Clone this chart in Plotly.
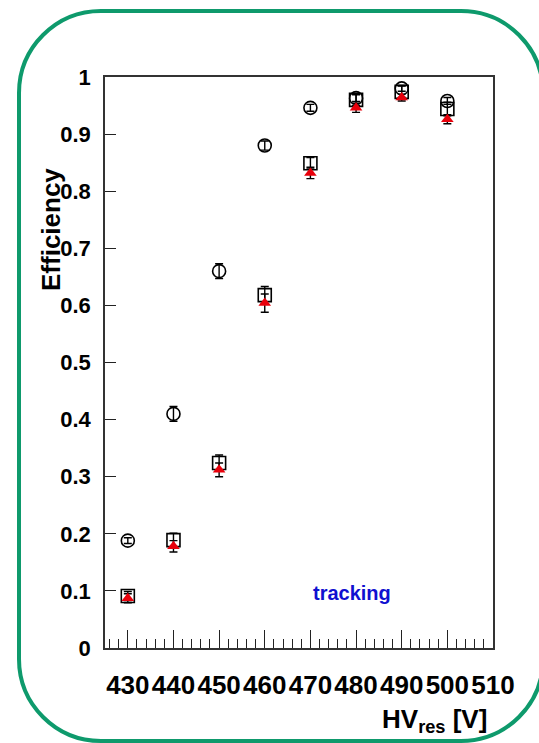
import plotly.graph_objects as go

# ---- data ----
hv = [430, 440, 450, 460, 470, 480, 490, 500]
eff_circle = [0.188, 0.410, 0.660, 0.880, 0.946, 0.963, 0.980, 0.958]
err_circle = [0.005, 0.013, 0.013, 0.008, 0.006, 0.006, 0.005, 0.006]
eff_square = [0.091, 0.189, 0.324, 0.618, 0.849, 0.960, 0.974, 0.944]
err_square = [0.008, 0.012, 0.014, 0.015, 0.010, 0.010, 0.010, 0.012]
eff_triangle = [0.087, 0.178, 0.312, 0.604, 0.832, 0.946, 0.964, 0.926]
err_triangle = [0.008, 0.010, 0.012, 0.016, 0.010, 0.008, 0.006, 0.008]
x_ticks = [430, 440, 450, 460, 470, 480, 490, 500, 510]

W, H = 539, 743
ML, MR, MT, MB = 105, 46, 77, 95
PW, PH = W - ML - MR, H - MT - MB

def px(x):
    return (x - ML) / PW

def py(y):
    return (H - MB - y) / PH

fig = go.Figure()

err_style = dict(type="data", thickness=1.4, width=4, color="black")

fig.add_trace(go.Scatter(
    x=hv, y=eff_circle, mode="markers",
    marker=dict(symbol="circle-open", size=13, color="black", line=dict(width=1.6, color="black")),
    error_y=dict(array=err_circle, **err_style), showlegend=False))
fig.add_trace(go.Scatter(
    x=hv, y=eff_square, mode="markers",
    marker=dict(symbol="square-open", size=13, color="black", line=dict(width=1.6, color="black")),
    error_y=dict(array=err_square, **err_style), showlegend=False))
fig.add_trace(go.Scatter(
    x=hv, y=eff_triangle, mode="markers",
    marker=dict(symbol="triangle-up", size=11, color="#e8000b", line=dict(width=0)),
    error_y=dict(array=err_triangle, **err_style), showlegend=False))

# rounded green frame
x0, x1, y0, y1, r = 19, 543, 11, 741, 82
k = 0.5523 * r
path = (
    f"M {px(x0 + r)},{py(y0)} L {px(x1 - r)},{py(y0)} "
    f"C {px(x1 - r + k)},{py(y0)} {px(x1)},{py(y0 + r - k)} {px(x1)},{py(y0 + r)} "
    f"L {px(x1)},{py(y1 - r)} "
    f"C {px(x1)},{py(y1 - r + k)} {px(x1 - r + k)},{py(y1)} {px(x1 - r)},{py(y1)} "
    f"L {px(x0 + r)},{py(y1)} "
    f"C {px(x0 + r - k)},{py(y1)} {px(x0)},{py(y1 - r + k)} {px(x0)},{py(y1 - r)} "
    f"L {px(x0)},{py(y0 + r)} "
    f"C {px(x0)},{py(y0 + r - k)} {px(x0 + r - k)},{py(y0)} {px(x0 + r)},{py(y0)} Z"
)
fig.add_shape(type="path", path=path, xref="paper", yref="paper",
              line=dict(color="#0e9a6c", width=4), layer="above")

font_family = "Liberation Sans, Arial, sans-serif"

fig.update_layout(
    width=W, height=H,
    margin=dict(l=ML, r=MR, t=MT, b=MB, autoexpand=False),
    plot_bgcolor="white", paper_bgcolor="white",
    font=dict(family=font_family, color="black"),
    xaxis=dict(
        range=[425, 510], tickmode="array", tickvals=x_ticks,
        ticktext=[f"<b>{v}</b>" for v in x_ticks],
        ticks="inside", ticklen=18, tickwidth=1.3, tickcolor="#222",
        minor=dict(ticks="inside", ticklen=9, tickwidth=1.1, tickcolor="#222", dtick=2, tick0=430, showgrid=False),
        showline=True, linecolor="#333", linewidth=1.5, mirror=True,
        showgrid=False, zeroline=False,
        tickfont=dict(size=26, family=font_family, color="black"),
        ticklabelstandoff=13,
    ),
    yaxis=dict(
        range=[0, 1], dtick=0.1, tick0=0,
        ticks="inside", ticklen=11, tickwidth=1.3, tickcolor="#222",
        showline=True, linecolor="#333", linewidth=1.5, mirror=True,
        showgrid=False, zeroline=False,
        tickfont=dict(size=22, family=font_family, color="black"),
        tickprefix="<b>", ticksuffix="</b>",
        ticklabelstandoff=8,
    ),
    annotations=[
        dict(text="<b>Efficiency</b>", textangle=-90, xref="paper", yref="paper",
             x=px(51), y=py(230), showarrow=False, xanchor="center", yanchor="middle",
             font=dict(size=26, family=font_family, color="black")),
        dict(text="<b>tracking</b>", xref="paper", yref="paper",
             x=px(352), y=py(593), showarrow=False, xanchor="center", yanchor="middle",
             font=dict(size=20, family=font_family, color="#1010d0")),
        dict(text="<b>HV<sub>res</sub> [V]</b>", xref="paper", yref="paper",
             x=px(489), y=py(720), showarrow=False, xanchor="right", yanchor="middle",
             font=dict(size=26, family=font_family, color="black")),
    ],
)

fig.write_html(
    "out.html",
    config={"displayModeBar": False},
    post_script="document.body.style.margin='0';document.body.style.overflow='hidden';",
)
